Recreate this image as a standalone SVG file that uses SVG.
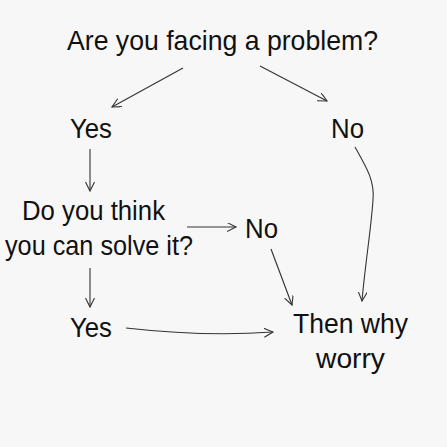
<svg xmlns="http://www.w3.org/2000/svg" width="447" height="447" viewBox="0 0 447 447">
<defs>
<style>
.t{font-family:"Liberation Sans",Arial,sans-serif;font-size:27.5px;fill:#111;text-anchor:middle}
.c{fill:none;stroke:#333;stroke-width:1.1;marker-end:url(#a)}
</style>
<marker id="a" markerUnits="userSpaceOnUse" markerWidth="12" markerHeight="12" refX="9" refY="4.5" orient="auto">
<path d="M0,0 L9,4.5 L0,9" fill="none" stroke="#333" stroke-width="1.1"/>
</marker>
</defs>
<rect width="447" height="447" fill="#f7f7f7"/>
<g id="connectors">
<path class="c" d="M183,68 L112,107"/>
<path class="c" d="M260,66 L327,101"/>
<path class="c" d="M90,149 L90,191"/>
<path class="c" d="M355,147 C365,165 375,180 373,200 C371,230 365,265 362,301"/>
<path class="c" d="M187,227 L236,227"/>
<path class="c" d="M271,249 L292,305"/>
<path class="c" d="M90,268 L90,307"/>
<path class="c" d="M126,328 C170,333 220,336 273,332"/>
</g>
<g id="q1"><text class="t" x="222.5" y="50" textLength="311" lengthAdjust="spacingAndGlyphs">Are you facing a problem?</text></g>
<g id="yes1"><text class="t" x="91" y="138" textLength="42" lengthAdjust="spacingAndGlyphs">Yes</text></g>
<g id="no1"><text class="t" x="347.5" y="138" textLength="33" lengthAdjust="spacingAndGlyphs">No</text></g>
<g id="q2"><text class="t" x="93.5" y="220" textLength="143" lengthAdjust="spacingAndGlyphs">Do you think</text><text class="t" x="99" y="255" textLength="188" lengthAdjust="spacingAndGlyphs">you can solve it?</text></g>
<g id="no2"><text class="t" x="261.5" y="238" textLength="33" lengthAdjust="spacingAndGlyphs">No</text></g>
<g id="yes2"><text class="t" x="91" y="337" textLength="42" lengthAdjust="spacingAndGlyphs">Yes</text></g>
<g id="end"><text class="t" x="350.5" y="333" textLength="115" lengthAdjust="spacingAndGlyphs">Then why</text><text class="t" x="350.5" y="368" textLength="69" lengthAdjust="spacingAndGlyphs">worry</text></g>
</svg>
